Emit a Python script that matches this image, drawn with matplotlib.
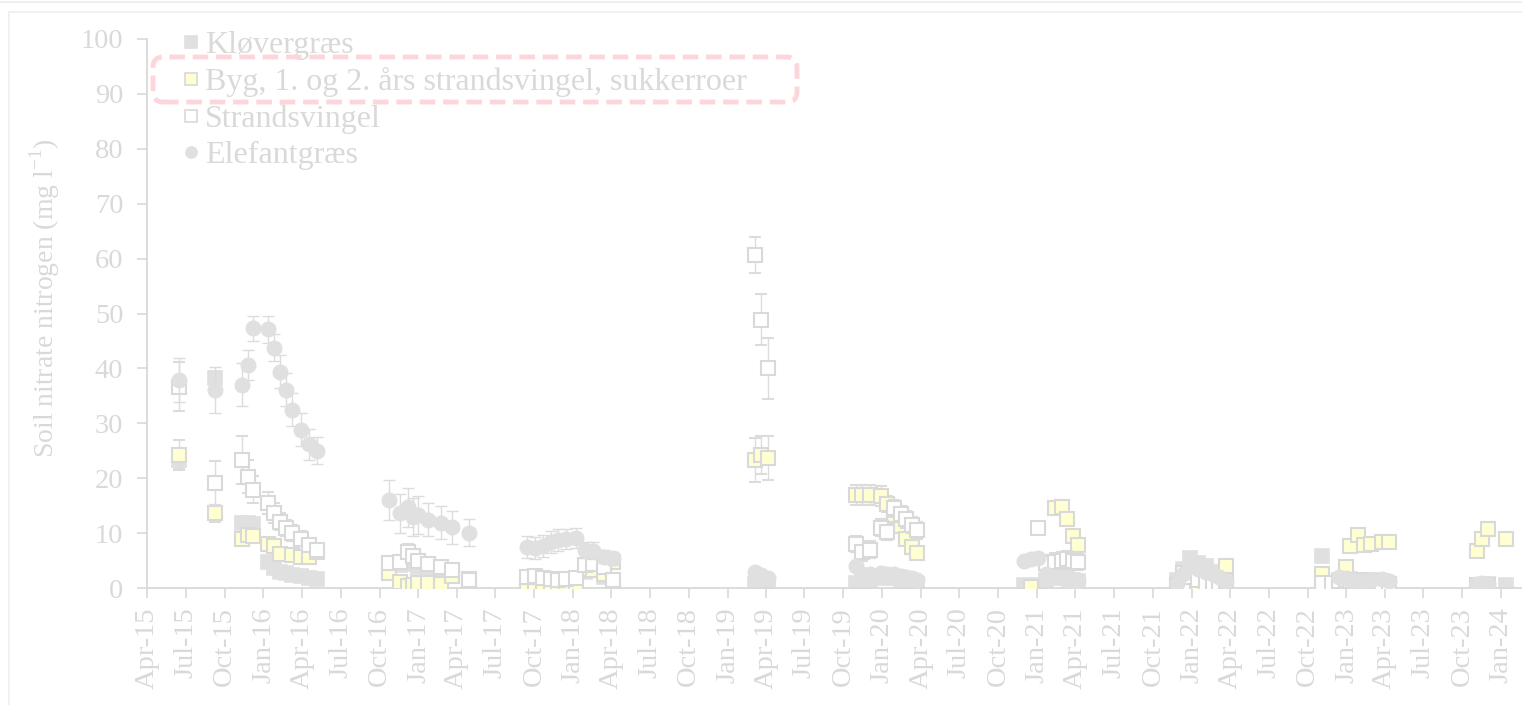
import matplotlib
matplotlib.use('Agg')
import matplotlib.pyplot as plt
import matplotlib.dates as mdates
from matplotlib.patches import FancyBboxPatch, Rectangle
from matplotlib.lines import Line2D
from matplotlib.transforms import IdentityTransform
import numpy as np
import pandas as pd

# ---------------- data ----------------
dates = [
    # 2015
    '2015-06-15', '2015-09-08',
    # 2015/16
    '2015-11-11', '2015-11-25', '2015-12-07', '2016-01-12', '2016-01-27', '2016-02-08',
    '2016-02-22', '2016-03-08', '2016-03-30', '2016-04-17', '2016-05-06',
    # 2016/17
    '2016-10-24', '2016-11-19', '2016-12-07', '2016-12-20', '2017-01-01', '2017-01-24',
    '2017-02-24', '2017-03-20', '2017-04-30',
    # 2017/18
    '2017-09-13', '2017-10-03', '2017-10-22', '2017-11-11', '2017-11-26', '2017-12-16',
    '2018-01-09', '2018-01-28', '2018-02-17', '2018-03-16', '2018-04-05',
    # 2019
    '2019-03-07', '2019-03-20', '2019-04-05',
    # 2019/20
    '2019-10-30', '2019-11-15', '2019-12-04', '2019-12-28', '2020-01-11', '2020-01-29',
    '2020-02-15', '2020-02-27', '2020-03-12', '2020-03-24',
    # 2020/21
    '2020-12-01', '2020-12-18', '2021-01-02', '2021-01-21', '2021-02-12', '2021-02-28',
    '2021-03-12', '2021-03-26', '2021-04-07',
    # 2021/22
    '2021-11-26', '2021-12-10', '2021-12-27', '2022-01-15', '2022-02-03', '2022-02-19',
    '2022-03-05', '2022-03-22',
    # 2022/23
    '2022-11-05', '2022-11-27', '2022-12-15', '2022-12-30', '2023-01-10', '2023-01-29',
    '2023-02-12', '2023-03-01', '2023-03-27', '2023-04-12',
    # 2023/24
    '2023-11-05', '2023-11-17', '2023-12-01', '2024-01-13',
]

klover = [
    23.3, 38.2,
    11.8, 11.9, 11.7, 4.8, 3.6, 3.0, 2.7, 2.4, 2.1, 1.8, 1.6,
    4.0, 4.2, 4.5, 4.3, 3.8, 3.2, 2.6, 2.2, 1.0,
    1.8, 1.5, 1.3, 1.2, 1.0, 1.0, 1.2, 3.0, 3.2, 2.0, 1.0,
    0.8, 0.9, 0.7,
    1.0, 1.2, 1.5, 1.8, 2.0, 1.8, 1.5, 1.3, 1.0, 0.8,
    0.5, 0.3, 0.5, 1.5, 1.8, 2.0, 1.8, 1.5, 1.2,
    1.5, 3.5, 5.5, 4.5, 4.0, 3.0, 2.5, 1.5,
    5.8, 0.5, 1.5, 1.8, 1.6, 1.5, 1.4, 1.5, 1.2, 0.8,
    0.5, 0.6, 0.7, 0.6,
]
klover_err = [
    1.5, 1.3,
    0.8, 0.8, 0.8, 1.0, 0.6, 0.5, 0.4, 0.4, 0.3, 0.3, 0.3,
    0.8, 0.8, 0.8, 0.8, 0.7, 0.6, 0.5, 0.5, 0.3,
    0.5, 0.4, 0.4, 0.3, 0.3, 0.3, 0.4, 0.8, 0.8, 0.5, 0.3,
    0.3, 0.3, 0.3,
    0.3, 0.4, 0.5, 0.5, 0.5, 0.5, 0.4, 0.4, 0.3, 0.3,
    0.2, 0.2, 0.2, 0.5, 0.5, 0.5, 0.5, 0.4, 0.4,
    0.5, 0.8, 1.0, 0.8, 0.8, 0.6, 0.5, 0.4,
    0.8, 0.2, 0.4, 0.4, 0.4, 0.4, 0.4, 0.4, 0.3, 0.3,
    0.2, 0.2, 0.2, 0.2,
]

byg = [
    24.2, 13.6,
    8.9, 9.7, 9.5, 8.0, 7.7, 6.2, None, 6.0, 5.6, 5.6, 6.6,
    2.8, 1.1, 0.4, 0.6, 0.9, 1.0, 0.7, 2.2, 1.6,
    0.4, 0.4, 0.4, 0.4, 0.6, 0.9, 1.0, 3.4, 3.3, 2.6, 4.8,
    23.3, 24.2, 23.6,
    16.9, 16.9, 16.9, 16.8, 15.3, 13.3, 11.3, 9.0, 7.5, 6.4,
    None, 0.2, None, None, 14.5, 14.8, 12.5, 9.5, 7.8,
    None, 2.7, 1.6, 0.4, 0.4, 0.4, None, 4.0,
    2.5, 0.1, None, 3.8, 7.6, 9.7, 7.8, 8.0, 8.3, 8.4,
    6.7, 8.9, 10.7, 9.0,
]
byg_err = [
    2.7, 1.5,
    1.0, 0.8, 0.8, 1.0, 0.8, 0.8, None, 0.6, 0.6, 0.6, 0.8,
    0.8, 0.5, 0.3, 0.3, 0.3, 0.4, 0.4, 0.6, 0.5,
    0.3, 0.3, 0.3, 0.3, 0.3, 0.4, 0.4, 0.8, 0.8, 0.6, 0.8,
    4.0, 3.5, 4.0,
    1.8, 1.8, 1.8, 1.8, 1.5, 1.5, 1.3, 1.2, 1.0, 1.0,
    None, 0.2, None, None, 0.6, 0.6, 0.6, 0.8, 0.8,
    None, 0.6, 0.5, 0.3, 0.3, 0.3, None, 0.6,
    0.6, 0.2, None, 0.6, 0.8, 0.8, 0.8, 0.8, 0.8, 0.8,
    0.8, 1.0, 1.3, 0.8,
]

strand = [
    36.7, 19.1,
    23.3, 20.3, 17.9, 15.4, 13.6, 12.1, 10.9, 10.0, 9.0, 7.8, 6.9,
    4.5, 4.8, 6.5, 5.8, 5.0, 4.4, 3.8, 3.2, 1.5,
    2.0, 2.2, 1.8, 1.6, 1.4, 1.6, 1.8, 4.2, 4.3, 3.8, 1.5,
    60.7, 48.9, 40.0,
    8.0, 6.5, 7.0, 11.0, 10.2, 14.5, 13.5, 12.5, 11.5, 10.5,
    None, None, 11.0, 4.5, 4.8, 5.0, 5.2, 5.0, 4.8,
    0.5, 1.0, 2.0, 1.5, 1.0, 0.8, 1.0, 1.2,
    1.0, 1.0, 1.2, 1.5, 1.3, 1.2, 1.2, 1.2, 1.0, 0.8,
    0.5, 0.5, 0.5, None,
]
strand_err = [
    4.5, 4.0,
    4.3, 3.0, 2.5, 2.0, 1.8, 1.6, 1.5, 1.4, 1.3, 1.2, 1.0,
    1.0, 1.2, 1.5, 1.3, 1.2, 1.0, 1.0, 0.8, 0.5,
    0.5, 0.5, 0.5, 0.4, 0.4, 0.4, 0.5, 1.0, 1.0, 0.8, 0.4,
    3.3, 4.7, 5.6,
    1.5, 1.5, 1.5, 1.5, 1.5, 1.5, 1.5, 1.5, 1.5, 1.5,
    None, None, 0.5, 1.5, 1.5, 1.5, 1.5, 1.5, 1.5,
    0.3, 0.4, 0.5, 0.5, 0.4, 0.3, 0.4, 0.4,
    0.4, 0.4, 0.4, 0.4, 0.4, 0.4, 0.4, 0.4, 0.3, 0.3,
    0.2, 0.2, 0.2, None,
]

elefant = [
    37.9, 36.0,
    37.0, 40.6, 47.3, 47.1, 43.8, 39.4, 36.1, 32.5, 28.8, 26.2, 25.0,
    16.0, 13.6, 14.7, 12.9, 13.3, 12.4, 11.9, 11.1, 10.1,
    7.5, 7.2, 7.6, 8.4, 8.7, 8.9, 9.1, 6.9, 6.8, 5.7, 5.4,
    2.9, 2.3, 1.8,
    4.0, 2.5, 2.5, 2.8, 2.6, 2.5, 2.2, 2.0, 1.8, 1.5,
    5.0, 5.3, 5.5, 2.5, 2.0, 1.8, 1.5, 1.3, 1.2,
    1.0, 2.5, 4.0, 3.5, 3.0, 2.5, 2.0, 1.2,
    None, None, 2.0, 1.8, 1.5, 1.3, 1.2, 1.5, 1.6, 1.2,
    0.8, 1.0, 0.8, None,
]
elefant_err = [
    4.0, 4.2,
    3.9, 2.8, 2.3, 2.5, 2.4, 3.0, 3.0, 3.0, 3.0, 2.8, 2.5,
    3.7, 3.5, 3.5, 3.5, 3.5, 3.0, 3.0, 3.0, 2.5,
    2.0, 2.0, 2.0, 2.0, 2.0, 1.8, 1.8, 1.5, 1.5, 1.2, 1.2,
    0.5, 0.5, 0.4,
    0.8, 0.5, 0.5, 0.5, 0.5, 0.5, 0.4, 0.4, 0.4, 0.3,
    0.5, 0.5, 0.5, 0.5, 0.4, 0.4, 0.3, 0.3, 0.3,
    0.3, 0.5, 0.8, 0.6, 0.6, 0.5, 0.4, 0.3,
    None, None, 0.4, 0.4, 0.3, 0.3, 0.3, 0.3, 0.3, 0.3,
    0.2, 0.2, 0.2, None,
]

labels = ['Kløvergræs', 'Byg, 1. og 2. års strandsvingel, sukkerroer',
          'Strandsvingel', 'Elefantgræs']
yticks = [0, 10, 20, 30, 40, 50, 60, 70, 80, 90, 100]

# ---------------- style ----------------
plt.rcParams['font.family'] = ['Liberation Serif', 'DejaVu Serif']
plt.rcParams['mathtext.fontset'] = 'custom'
plt.rcParams['mathtext.rm'] = 'Liberation Serif'

TXT = '#d9d9d9'
GRAY = '#e0e0e0'
EDGE = '#d9d9d9'
YEL = '#ffffd2'

W, H = 1522, 705
fig = plt.figure(figsize=(W / 100, H / 100), dpi=100)
fig.patch.set_facecolor('white')
ax = fig.add_axes([147 / W, 117 / H, (1521 - 147) / W, 549 / H])

x = pd.to_datetime(dates)

styles = [
    (klover, klover_err, dict(marker='s', mfc=GRAY, mec=GRAY, ms=9.5, mew=1.2)),
    (byg, byg_err, dict(marker='s', mfc=YEL, mec=EDGE, ms=9.5, mew=1.5)),
    (strand, strand_err, dict(marker='s', mfc='white', mec=EDGE, ms=9.5, mew=1.5)),
    (elefant, elefant_err, dict(marker='o', mfc=GRAY, mec=GRAY, ms=10.5, mew=1.0)),
]
for i, (vals, errs, st) in enumerate(styles):
    v = np.array(vals, dtype=float)
    e = np.array(errs, dtype=float)
    ax.errorbar(x, v, yerr=e, linestyle='none', ecolor='#dcdcdc', elinewidth=1.0,
                capsize=4.5, capthick=1.0, zorder=2 + i, **st)

ax.set_ylim(0, 100)
ax.set_yticks(yticks)
ax.set_xlim(pd.Timestamp('2015-04-01'), pd.Timestamp('2024-02-17'))
ax.xaxis.set_major_locator(mdates.MonthLocator(bymonth=[1, 4, 7, 10]))
ax.xaxis.set_major_formatter(mdates.DateFormatter('%b-%y'))

for s in ['top', 'right']:
    ax.spines[s].set_visible(False)
for s in ['left', 'bottom']:
    ax.spines[s].set_color(EDGE)
    ax.spines[s].set_linewidth(1.3)
ax.tick_params(axis='both', colors=EDGE, labelcolor=TXT, labelsize=20.5, length=7, width=1.2)
ax.tick_params(axis='y', pad=10)
ax.tick_params(axis='x', pad=7, labelrotation=90)

fig.text(45 / W, 1 - 298 / H, r'Soil nitrate nitrogen (mg l$^{\mathrm{-1}}$)', rotation=90,
         ha='center', va='center', fontsize=20, color=TXT)

# legend
handles = []
for vals, errs, st in styles:
    handles.append(Line2D([], [], linestyle='none', marker=st['marker'], markerfacecolor=st['mfc'],
                          markeredgecolor=st['mec'], markersize=8, markeredgewidth=1.2))
leg = fig.legend(handles, labels, loc='upper left', bbox_to_anchor=(182 / W, 1 - 31 / H),
                 frameon=False, fontsize=23, handlelength=0.55, handletextpad=0.18,
                 labelspacing=0.22, borderpad=0, borderaxespad=0)
for t in leg.get_texts():
    t.set_color(TXT)

# highlight box around the second legend entry
box = FancyBboxPatch((153, H - 102), 644, 45, boxstyle='round,pad=0,rounding_size=10',
                     transform=IdentityTransform(), fill=False, edgecolor='#fcd6da',
                     linewidth=3.5, linestyle=(0, (3.2, 1.6)), zorder=10)
fig.add_artist(box)

# outer frame lines
fig.add_artist(Line2D([0, 1], [1 - 1.5 / H, 1 - 1.5 / H], transform=fig.transFigure,
                      color='#ececec', lw=1.2))
fig.add_artist(Rectangle((9, -10), 1600, H - 12 + 10, transform=IdentityTransform(),
                         fill=False, edgecolor='#efefef', lw=1.2))

fig.savefig('out.png', dpi=100)
